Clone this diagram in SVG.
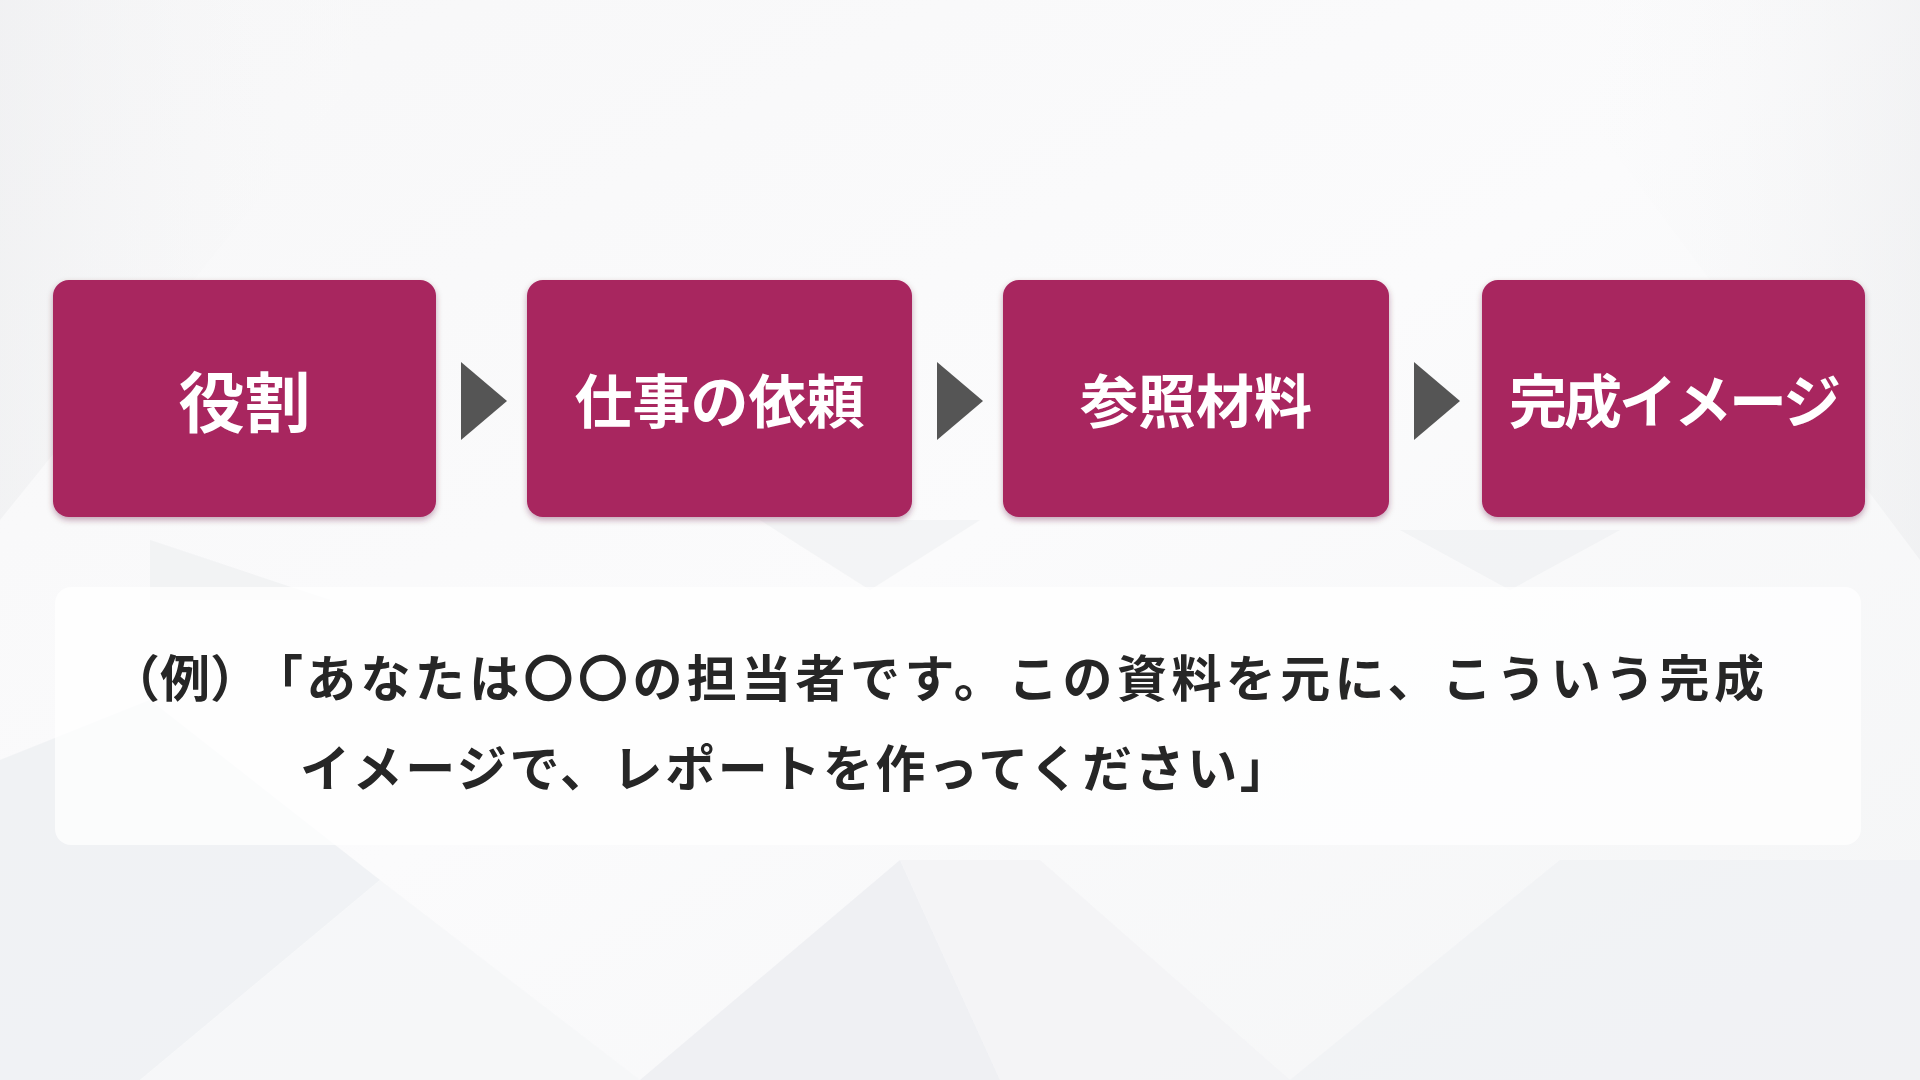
<svg xmlns="http://www.w3.org/2000/svg" width="1920" height="1080" viewBox="0 0 1920 1080">
  <defs>
    <linearGradient id="bg" x1="0" y1="0" x2="1" y2="1">
      <stop offset="0" stop-color="#f7f7f8"/>
      <stop offset="0.5" stop-color="#fbfbfc"/>
      <stop offset="1" stop-color="#f4f5f6"/>
    </linearGradient>
    <linearGradient id="tri" x1="0" y1="0" x2="1" y2="0">
      <stop offset="0" stop-color="#e9eaec" stop-opacity="0.9"/>
      <stop offset="1" stop-color="#ffffff" stop-opacity="0"/>
    </linearGradient>
    <linearGradient id="tri2" x1="1" y1="0" x2="0" y2="0">
      <stop offset="0" stop-color="#e8e9eb" stop-opacity="0.9"/>
      <stop offset="1" stop-color="#ffffff" stop-opacity="0"/>
    </linearGradient>
    <filter id="shadow" x="-5%" y="-5%" width="110%" height="115%">
      <feDropShadow dx="0" dy="3" stdDeviation="3" flood-color="#5a1030" flood-opacity="0.35"/>
    </filter>
    <style>
      .box { fill: #a8255f; }
      .label { font-family: "Noto Sans CJK JP", "Noto Sans", sans-serif; font-weight: 700; font-size: 58px; fill: #ffffff; text-anchor: middle; dominant-baseline: central; }
      .label.big { font-size: 66px; }
      .arrow { fill: #555555; }
      .body { font-family: "Noto Sans CJK JP", "Noto Sans", sans-serif; font-weight: 700; font-size: 50px; fill: #262626; dominant-baseline: central; }
    </style>
  </defs>

  <!-- background -->
  <rect x="0" y="0" width="1920" height="1080" fill="url(#bg)"/>
  <g id="background-pattern">
    <polygon points="0,0 420,0 0,520" fill="url(#tri)" opacity="0.5"/>
    <polygon points="1920,0 1500,0 1920,560" fill="url(#tri2)" opacity="0.5"/>
    <polygon points="150,540 330,600 150,600" fill="#eceef0" opacity="0.6"/>
    <polygon points="760,520 980,520 870,590" fill="#eceef0" opacity="0.5"/>
    <polygon points="1400,530 1620,530 1510,590" fill="#eceef0" opacity="0.5"/>
    <polygon points="0,1080 0,760 150,700 380,880 140,1080" fill="#eef0f2" opacity="0.8"/>
    <polygon points="640,1080 900,860 1000,1080" fill="#eceef1" opacity="0.8"/>
    <polygon points="900,860 1040,860 1290,1080 1000,1080" fill="#f2f3f5" opacity="0.8"/>
    <polygon points="1290,1080 1560,860 1920,860 1920,1080" fill="#f0f1f3" opacity="0.7"/>
    <polygon points="380,880 640,1080 140,1080" fill="#f5f6f7" opacity="0.8"/>
  </g>

  <!-- example panel -->
  <g id="example">
    <rect x="55" y="587" width="1806" height="258" rx="16" fill="#ffffff" opacity="0.72"/>
    <text class="body" y="675"><tspan x="110">（例）</tspan><tspan dx="18">「</tspan><tspan x="306" letter-spacing="4.4">あなたは〇〇の担当者です。この資料を元に、こういう完成</tspan></text>
    <text class="body" y="765" x="300" letter-spacing="2.6">イメージで、レポートを作ってください」</text>
  </g>

  <!-- nodes -->
  <g id="node-role" filter="url(#shadow)">
    <rect class="box" x="53" y="280" width="383" height="237" rx="16"/>
    <text class="label big" x="244.5" y="398">役割</text>
  </g>
  <g id="node-request" filter="url(#shadow)">
    <rect class="box" x="527" y="280" width="385" height="237" rx="16"/>
    <text class="label" x="719.5" y="398">仕事の依頼</text>
  </g>
  <g id="node-reference" filter="url(#shadow)">
    <rect class="box" x="1003" y="280" width="386" height="237" rx="16"/>
    <text class="label" x="1196" y="398">参照材料</text>
  </g>
  <g id="node-image" filter="url(#shadow)">
    <rect class="box" x="1482" y="280" width="383" height="237" rx="16"/>
    <text class="label" x="1673.5" y="398" letter-spacing="-3">完成イメージ</text>
  </g>

  <!-- connectors -->
  <g id="connectors">
    <polygon class="arrow" points="461,362 507,401 461,440"/>
    <polygon class="arrow" points="937,362 983,401 937,440"/>
    <polygon class="arrow" points="1414,362 1460,401 1414,440"/>
  </g>
</svg>
